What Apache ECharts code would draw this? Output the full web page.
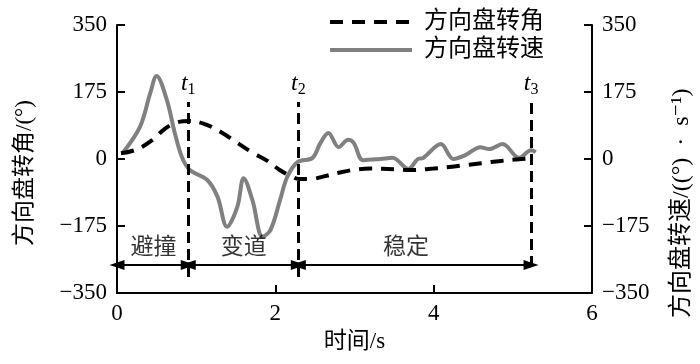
<!DOCTYPE html>
<html><head><meta charset="utf-8">
<script src="https://cdn.jsdelivr.net/npm/echarts@6/dist/echarts.min.js"></script>
<style>html,body{margin:0;padding:0;background:#fff}#c{width:700px;height:364px}</style>
</head><body><div id="c"></div>
<script>
// Steering wheel angle (deg), left axis
const angleTime  = [0.05, 0.25, 0.45, 0.6, 0.75, 0.92, 1.1, 1.3, 1.5, 1.7, 1.9, 2.05, 2.2, 2.3, 2.45, 2.6, 2.8, 3.0, 3.2, 3.5, 3.7, 4.0, 4.2, 4.4, 4.6, 4.85, 5.05, 5.23];
const angleValue = [15, 25, 50, 78, 95, 99, 92, 72, 45, 18, -5, -28, -45, -52, -52, -46, -36, -28, -25, -27, -29, -25, -21, -16, -11, -5, -1, 2];
// Steering wheel rate (deg/s), right axis
const rateTime  = [0.08, 0.29, 0.42, 0.5, 0.63, 0.73, 0.82, 0.92, 1.14, 1.27, 1.39, 1.52, 1.6, 1.71, 1.84, 1.94, 2.06, 2.15, 2.28, 2.47, 2.57, 2.67, 2.8, 2.92, 2.99, 3.11, 3.33, 3.48, 3.68, 3.8, 3.87, 4.09, 4.25, 4.4, 4.59, 4.7, 4.87, 5.08, 5.23, 5.29];
const rateValue = [18, 84, 172, 217, 154, 68, 5, -29, -55, -99, -177, -125, -50, -107, -203, -185, -107, -47, -8, 3, 42, 68, 31, 50, 42, -3, 0, 3, -26, 0, 3, 39, 0, 10, 31, 26, 39, 3, 23, 18];
const yTickLabels = ['-350', '-175', '0', '175', '350'];
// phase boundaries t1, t2, t3 and annotation values
const phaseTimes = [0, 0.9, 2.29, 5.23];
const markerSub = ['1', '2', '3'];
const markerTop = [149, 149, 149];
const markerBottom = [-308, -308, -282];
const phaseNames = ['避撞', '变道', '稳定'];
const phaseLabelTime = [0.46, 1.6, 3.65];
const phaseLabelValue = -232;
const arrowValue = -277;
const seriesNames = ['方向盘转角', '方向盘转速'];

const FF = "Liberation Serif, DejaVu Serif, Noto Sans CJK SC, serif";
const toPairs = (xs, ys) => xs.map((x, i) => [x, ys[i]]);
const minusFmt = v => String(v).replace('-', '\u2212');

const chart = echarts.init(document.getElementById('c'), null, {renderer: 'canvas'});

const yAxisBase = (pos) => ({
  type: 'value', position: pos, min: -350, max: 350, interval: 175,
  axisLine: {show: true, onZero: false, lineStyle: {color: '#000', width: 2}},
  axisTick: {show: true, inside: true, length: 8, lineStyle: {color: '#000', width: 2}},
  axisLabel: {color: '#000', fontSize: 23, fontFamily: FF, margin: 10, formatter: minusFmt},
  splitLine: {show: false}
});

const tLines = phaseTimes.slice(1).map((t, i) => [
  {coord: [t, markerBottom[i]]},
  {coord: [t, markerTop[i]], label: {show: true, position: 'end', distance: 4,
     formatter: '{i|t}{s|' + markerSub[i] + '}',
     rich: {i: {fontFamily: FF, fontStyle: 'italic', fontSize: 24, color: '#000'},
            s: {fontFamily: FF, fontSize: 16, color: '#000', verticalAlign: 'bottom', padding: [12, 0, 0, 0]}}}}
]);

const arrows = phaseTimes.slice(0, -1).map((t, i) => [
  {coord: [t, arrowValue]},
  {coord: [phaseTimes[i + 1], arrowValue]}
]);

const option = {
  animation: false,
  grid: {left: 117, right: 108, top: 25, bottom: 71},
  legend: {
    data: [
      {name: seriesNames[0], lineStyle: {width: 4, type: [13, 9], color: '#000'}},
      {name: seriesNames[1], lineStyle: {width: 4, color: '#808080'}}
    ],
    orient: 'vertical', left: 323, top: 5,
    itemWidth: 82, itemHeight: 14, itemGap: 4,
    itemStyle: {opacity: 0},
    textStyle: {fontSize: 24, fontFamily: FF, color: '#000', padding: [0, 0, 0, 7], lineHeight: 24}
  },
  xAxis: {
    type: 'value', min: 0, max: 6, interval: 2,
    axisLine: {show: true, onZero: false, lineStyle: {color: '#000', width: 2}},
    axisTick: {show: true, inside: true, length: 8, lineStyle: {color: '#000', width: 2}},
    axisLabel: {color: '#000', fontSize: 23, fontFamily: FF, margin: 9},
    splitLine: {show: false},
    name: '时间/s', nameLocation: 'middle', nameGap: 37,
    nameTextStyle: {color: '#000', fontSize: 23, fontFamily: FF}
  },
  yAxis: [yAxisBase('left'), yAxisBase('right')],
  graphic: [
    {type: 'text', x: 25, y: 246, rotation: Math.PI / 2,
     style: {text: '方向盘转角/(°)', fontSize: 23, fontFamily: FF, fill: '#000', align: 'left', verticalAlign: 'middle'}},
    {type: 'text', x: 682, y: 318, rotation: Math.PI / 2,
     style: {text: '方向盘转速/((°)\u2002·\u2002s\u207B\u00B9)', fontSize: 24, fontFamily: FF, fill: '#000', align: 'left', verticalAlign: 'middle'}}
  ],
  series: [
    {
      name: seriesNames[1], type: 'line', yAxisIndex: 1, data: toPairs(rateTime, rateValue),
      smooth: 0.35, symbol: 'none', lineStyle: {color: '#808080', width: 4}, itemStyle: {color: '#808080'}, z: 2
    },
    {
      name: seriesNames[0], type: 'line', yAxisIndex: 0, data: toPairs(angleTime, angleValue),
      smooth: 0.4, symbol: 'none', lineStyle: {color: '#000', width: 4, type: [13, 9]}, itemStyle: {color: '#000'}, z: 3,
      markLine: {
        silent: true, symbol: ['none', 'none'], animation: false,
        lineStyle: {color: '#000', width: 3, type: [11, 6]},
        label: {show: false},
        data: tLines
      }
    },
    {
      name: 'phases', type: 'scatter', yAxisIndex: 0, symbolSize: 1,
      itemStyle: {color: 'rgba(0,0,0,0)'},
      data: phaseLabelTime.map((t, i) => ({value: [t, phaseLabelValue], name: phaseNames[i]})),
      label: {show: true, position: 'inside', formatter: p => p.name, color: '#000', fontSize: 23, fontFamily: FF},
      markLine: {
        silent: true, symbol: ['triangle', 'triangle'], symbolSize: [10, 15], animation: false,
        lineStyle: {color: '#000', width: 2, type: 'solid'},
        itemStyle: {color: '#000'},
        label: {show: false},
        data: arrows
      },
      z: 4
    }
  ]
};
chart.setOption(option);
</script>
</body></html>
